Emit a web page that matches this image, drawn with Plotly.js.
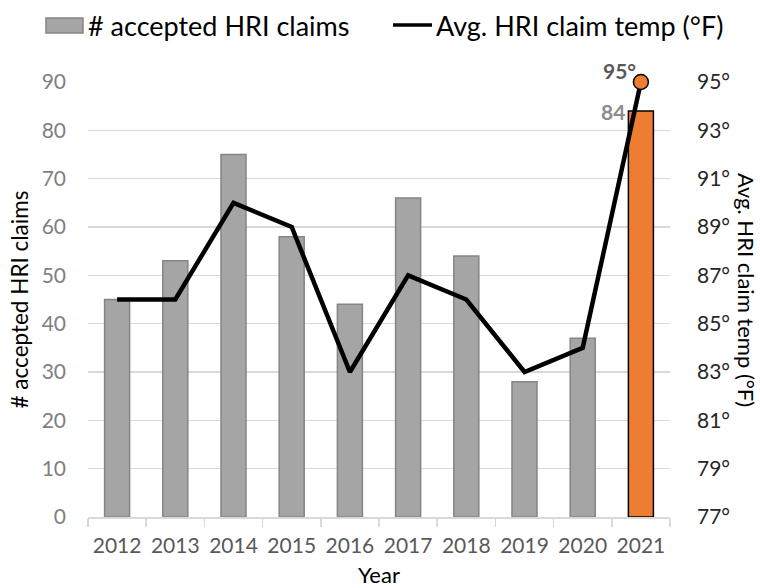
<!DOCTYPE html>
<html>
<head>
<meta charset="utf-8">
<script src="https://cdn.plot.ly/plotly-3.0.1.min.js"></script>
<style>html,body{margin:0;padding:0;background:#fff;}#chart{width:760px;height:588px;}</style>
</head>
<body>
<div id="chart"></div>
<script>
var years = ["2012","2013","2014","2015","2016","2017","2018","2019","2020","2021"];
var claims = [45, 53, 75, 58, 44, 66, 54, 28, 37, 84];
var avgTemp = [86, 86, 90, 89, 83, 87, 86, 83, 84, 95];
var leftTicks = [0,10,20,30,40,50,60,70,80,90];
var rightTicks = [77,79,81,83,85,87,89,91,93,95];
var seriesNames = ["# accepted HRI claims", "Avg. HRI claim temp (°F)"];

var FONT = "Lato, 'Open Sans', sans-serif";
var last = years.length - 1;

var barColors = claims.map(function(v,i){ return i === last ? "#ed7d31" : "#a5a5a5"; });
var barLines = claims.map(function(v,i){ return i === last ? "#000000" : "#858585"; });
var markerSizes = avgTemp.map(function(v,i){ return i === last ? 15 : 0; });

var traces = [
  {
    type: "bar", name: seriesNames[0],
    x: years, y: claims,
    marker: {color: barColors, line: {color: barLines, width: 1.5}}
  },
  {
    type: "scatter", mode: "lines+markers", name: seriesNames[1],
    x: years, y: avgTemp, yaxis: "y2",
    line: {color: "#000000", width: 4.5},
    marker: {size: markerSizes, color: "#ed7d31", opacity: 1, line: {color: "#000000", width: 1.5}},
    cliponaxis: false
  }
];

// plot area in pixels: x 88..670, y 82..517
var L = 88, R = 670, T = 82, B = 517;
function px(x){ return (x - L) / (R - L); }
function py(y){ return (B - y) / (B - T); }

var layout = {
  width: 760, height: 588,
  margin: {l: L, r: 760 - R, t: T, b: 588 - B},
  paper_bgcolor: "#ffffff", plot_bgcolor: "#ffffff",
  font: {family: FONT, size: 21, color: "#000000"},
  showlegend: false,
  bargap: 0.57,
  xaxis: {
    type: "category", range: [-0.5, years.length - 0.5], autorange: false,
    tickson: "boundaries", ticks: "outside", ticklen: 8, tickwidth: 1.5, tickcolor: "#d9d9d9",
    showline: true, linecolor: "#d9d9d9", linewidth: 1.5, showgrid: false, tickangle: 0,
    ticklabelstandoff: 9,
    tickfont: {family: FONT, size: 21, color: "#595959"},
    title: {text: "Year", font: {family: FONT, size: 22, color: "#000000"}, standoff: 20}
  },
  yaxis: {
    range: [0, 90], autorange: false, tickvals: leftTicks, ticktext: leftTicks.map(String),
    showgrid: true, gridcolor: "#d9d9d9", gridwidth: 1.5, zeroline: false, showline: false,
    ticks: "", ticklabelstandoff: 21,
    tickfont: {family: FONT, size: 21, color: "#7f7f7f"},
    title: {text: seriesNames[0], font: {family: FONT, size: 22.5, color: "#000000"}, standoff: 6}
  },
  yaxis2: {
    overlaying: "y", side: "right", range: [77, 95], autorange: false,
    tickvals: rightTicks, ticktext: rightTicks.map(function(v){ return v + "°"; }),
    showgrid: false, zeroline: false, showline: false, ticks: "", ticklabelstandoff: 26,
    tickfont: {family: FONT, size: 21, color: "#262626"}
  },
  shapes: [
    // legend swatches
    {type: "rect", xref: "paper", yref: "paper", x0: px(46), x1: px(83), y0: py(33), y1: py(18),
     fillcolor: "#a5a5a5", line: {color: "#858585", width: 1.5}},
    {type: "line", xref: "paper", yref: "paper", x0: px(393), x1: px(432), y0: py(25), y1: py(25),
     line: {color: "#000000", width: 3.5}}
  ],
  annotations: [
    {
      xref: "paper", yref: "paper", x: px(86), y: py(26), xanchor: "left", yanchor: "middle",
      text: seriesNames[0], showarrow: false, font: {family: FONT, size: 27, color: "#000000"}
    },
    {
      xref: "paper", yref: "paper", x: px(434), y: py(26), xanchor: "left", yanchor: "middle",
      text: seriesNames[1], showarrow: false, font: {family: FONT, size: 27, color: "#000000"}
    },
    {
      xref: "paper", yref: "paper", x: px(747), y: py(290), xanchor: "center", yanchor: "middle",
      text: seriesNames[1], textangle: 90, showarrow: false,
      font: {family: FONT, size: 22, color: "#000000"}
    },
    {
      x: last, y: avgTemp[last], yref: "y2", xref: "x",
      text: "<b>" + avgTemp[last] + "°</b>", showarrow: false,
      xanchor: "right", yanchor: "bottom", xshift: -3, yshift: -3,
      font: {family: FONT, size: 21, color: "#595959"}
    },
    {
      x: last, y: claims[last], xref: "x", yref: "y",
      text: "<b>" + claims[last] + "</b>", showarrow: false,
      xanchor: "right", yanchor: "middle", xshift: -14, yshift: 0,
      font: {family: FONT, size: 21, color: "#8c8c8c"}
    }
  ]
};

Plotly.newPlot("chart", traces, layout, {displayModeBar: false, staticPlot: true});
</script>
</body>
</html>
